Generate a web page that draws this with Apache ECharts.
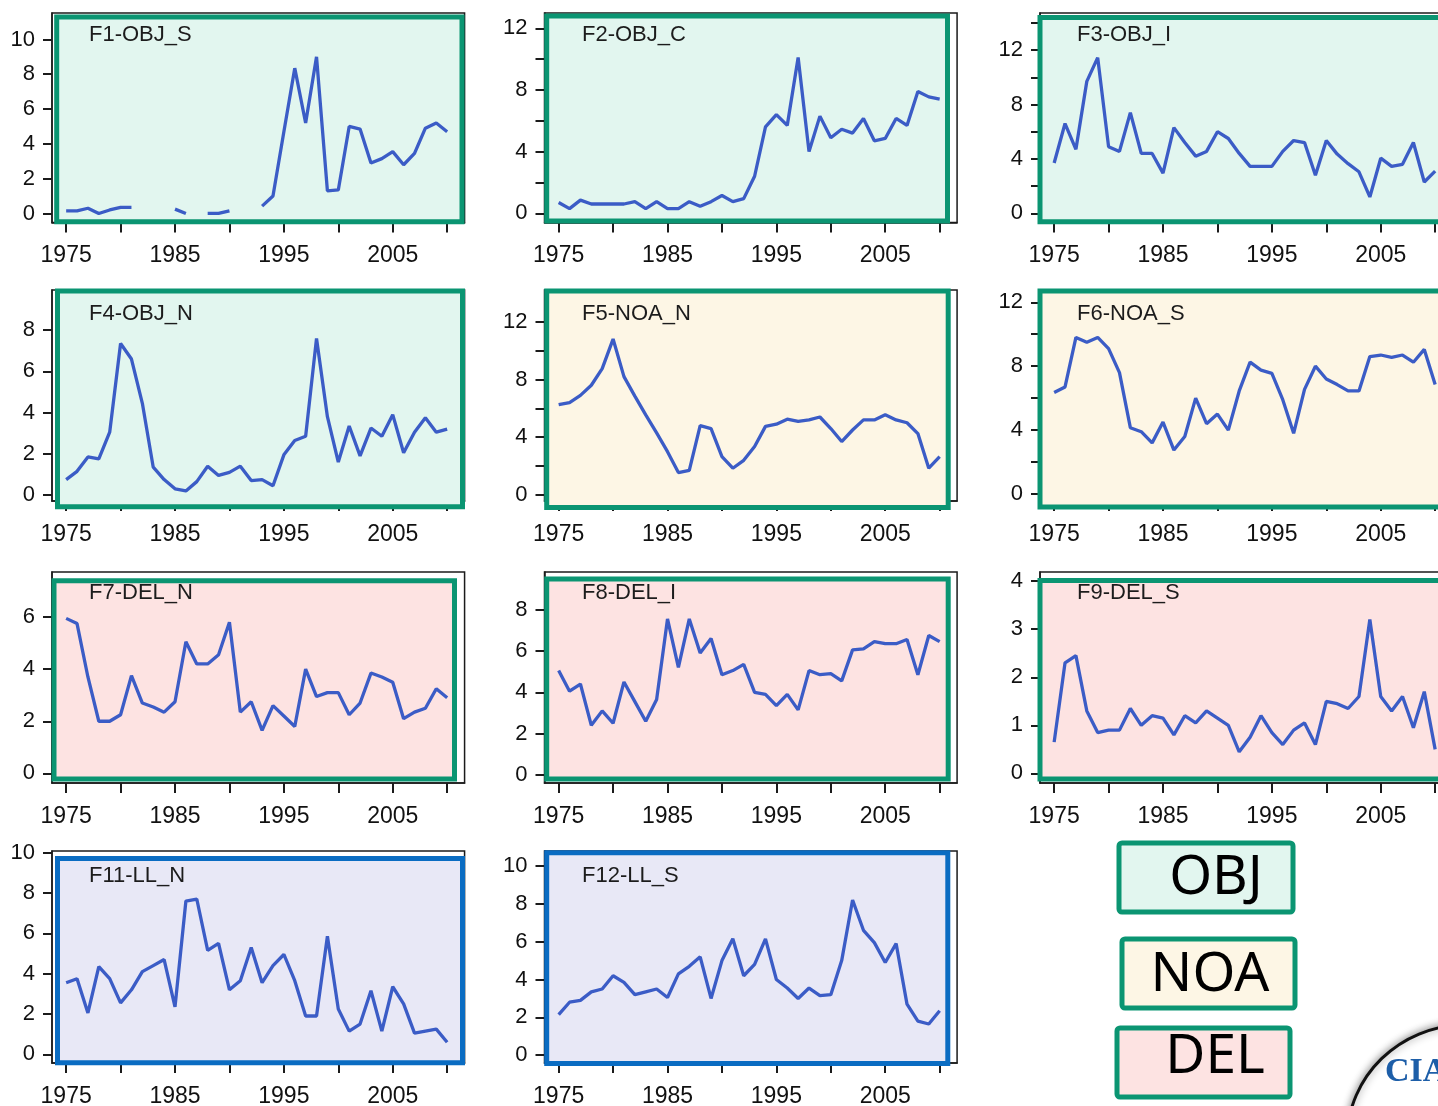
<!DOCTYPE html>
<html><head><meta charset="utf-8">
<script src="https://cdn.jsdelivr.net/npm/echarts@6/dist/echarts.min.js"></script>
<style>html,body{margin:0;padding:0;background:#fff}#c{width:1438px;height:1106px}</style>
</head><body><div id="c"></div>
<script>
// ---------- data ----------
const years = [1975,1976,1977,1978,1979,1980,1981,1982,1983,1984,1985,1986,1987,1988,1989,1990,1991,1992,1993,1994,1995,1996,1997,1998,1999,2000,2001,2002,2003,2004,2005,2006,2007,2008,2009,2010];

const F1_OBJ_S = [0.15,0.15,0.3,0.0,0.2,0.35,0.35,null,null,null, 0.25,0.0,null,0.0,0.0,0.15,null,null,0.42,1.0, 4.7,8.35,5.2,9.0,1.3,1.35,5.0,4.85,2.9,3.15, 3.55,2.8,3.45,4.9,5.2,4.7];
const F2_OBJ_C = [0.7,0.3,0.85,0.6,0.6,0.6,0.6,0.75,0.3,0.75, 0.3,0.3,0.75,0.45,0.75,1.15,0.75,0.95,2.4,5.6, 6.4,5.7,10.1,4.0,6.3,4.9,5.45,5.2,6.15,4.7, 4.85,6.15,5.7,7.9,7.55,7.4];
const F3_OBJ_I = [3.7,6.6,4.7,9.7,11.45,4.9,4.55,7.4,4.4,4.4, 2.95,6.3,5.2,4.2,4.55,6.0,5.5,4.4,3.45,3.45, 3.45,4.55,5.35,5.2,2.8,5.35,4.35,3.65,3.05,1.2, 4.05,3.45,3.6,5.2,2.3,3.1];
const F4_OBJ_N = [0.75,1.15,1.85,1.75,3.05,7.35,6.6,4.45,1.35,0.75, 0.3,0.2,0.65,1.4,0.95,1.1,1.4,0.7,0.75,0.45, 1.95,2.65,2.85,7.6,3.8,1.6,3.35,1.9,3.25,2.85, 3.9,2.05,3.05,3.75,3.05,3.2];
const F5_NOA_N = [6.25,6.4,6.9,7.6,8.75,10.8,8.2,6.85,5.55,4.3, 3.0,1.55,1.7,4.8,4.6,2.65,1.85,2.4,3.35,4.75, 4.9,5.25,5.1,5.2,5.4,4.6,3.7,4.5,5.2,5.2, 5.55,5.2,5.0,4.25,1.85,2.65];
const F6_NOA_S = [6.35,6.7,9.8,9.5,9.8,9.1,7.6,4.15,3.9,3.2, 4.5,2.75,3.6,6.0,4.4,5.0,4.0,6.45,8.25,7.75, 7.55,5.9,3.8,6.55,8.0,7.2,6.85,6.45,6.45,8.6, 8.7,8.55,8.7,8.25,9.05,6.85];
const F7_DEL_N = [5.95,5.75,3.7,2.0,2.0,2.25,3.75,2.7,2.55,2.35, 2.75,5.05,4.2,4.2,4.55,5.8,2.35,2.75,1.65,2.6, 2.2,1.8,4.0,2.95,3.1,3.1,2.25,2.7,3.85,3.7, 3.5,2.1,2.35,2.5,3.25,2.9];
const F8_DEL_I = [5.05,4.05,4.4,2.4,3.1,2.5,4.5,3.55,2.6,3.65, 7.55,5.2,7.55,5.9,6.6,4.85,5.05,5.35,4.0,3.9, 3.35,3.9,3.15,5.05,4.85,4.9,4.55,6.05,6.1,6.45, 6.35,6.35,6.55,4.85,6.75,6.45];
const F9_DEL_S = [0.65,2.3,2.45,1.3,0.85,0.9,0.9,1.35,1.0,1.2, 1.15,0.8,1.2,1.05,1.3,1.15,1.0,0.45,0.75,1.2, 0.85,0.6,0.9,1.05,0.6,1.5,1.45,1.35,1.6,3.2, 1.6,1.3,1.6,0.95,1.7,0.5];
const F11_LL_N = [3.55,3.75,2.05,4.35,3.75,2.55,3.2,4.1,4.4,4.7, 2.35,7.6,7.7,5.15,5.5,3.2,3.65,5.3,3.55,4.4, 4.95,3.65,1.9,1.9,5.85,2.25,1.15,1.5,3.15,1.15, 3.35,2.5,1.05,1.15,1.25,0.6];
const F12_LL_S = [2.15,2.8,2.9,3.35,3.5,4.2,3.85,3.2,3.35,3.5, 3.05,4.3,4.7,5.2,3.0,5.0,6.15,4.2,4.8,6.15, 4.0,3.55,3.0,3.55,3.15,3.2,5.0,8.2,6.6,5.95, 4.9,5.9,2.7,1.8,1.65,2.35];

const xTickValues = [1975,1980,1985,1990,1995,2000,2005,2010];
const xLabelValues = [1975,1985,1995,2005];
const yTicks0to10by2 = [0,2,4,6,8,10];
const yTicks0to12by2 = [0,2,4,6,8,10,12];
const yTicks0to14by2 = [0,2,4,6,8,10,12,14];
const yLabels0to12by4 = [0,4,8,12];
const yTicks0to8by2 = [0,2,4,6,8];
const yTicks0to6by2 = [0,2,4,6];
const yTicks0to4by1 = [0,1,2,3,4];
const legendLabels = ['OBJ','NOA','DEL'];

// ---------- layout / style ----------
const XMIN = 1973.7, XMAX = 2011.6, PX_PER_YEAR = 10.886;
const frameW = (XMAX - XMIN) * PX_PER_YEAR;
const colLeft = [52, 544.5, 1040];
const rowFrame = [[13, 222.5], [290, 501], [572, 783], [851, 1063]];
const titleLeft = [89, 582, 1077];
const titleTop = [24, 303, 582, 865];
const kinds = {
  OBJ: {bg: '#e2f6ef', border: '#0b9572'},
  NOA: {bg: '#fdf6e5', border: '#0b9572'},
  DEL: {bg: '#fde3e2', border: '#0b9572'},
  LL:  {bg: '#e8e8f6', border: '#0a6cc2'}
};
const FONT = '"Liberation Sans", Arial, sans-serif';
const LINE_COLOR = '#3b5cc6';

const panels = [
  {title:'F1-OBJ_S', values:F1_OBJ_S, col:0, row:0, yMin:-0.52, yMax:11.52, ticks:yTicks0to10by2, labels:yTicks0to10by2, kind:'OBJ', box:[56.7,17,462,221.7]},
  {title:'F2-OBJ_C', values:F2_OBJ_C, col:1, row:0, yMin:-0.6,  yMax:12.99, ticks:yTicks0to12by2, labels:yLabels0to12by4, kind:'OBJ', box:[546.7,16,947.5,221]},
  {title:'F3-OBJ_I', values:F3_OBJ_I, col:2, row:0, yMin:-0.68, yMax:14.73, ticks:yTicks0to14by2, labels:yLabels0to12by4, kind:'OBJ', box:[1040,17.5,1500,221.7]},
  {title:'F4-OBJ_N', values:F4_OBJ_N, col:0, row:1, yMin:-0.29, yMax:9.95,  ticks:yTicks0to8by2,  labels:yTicks0to8by2,  kind:'OBJ', box:[57.5,291,462.5,506.7]},
  {title:'F5-NOA_N', values:F5_NOA_N, col:1, row:1, yMin:-0.42, yMax:14.2,  ticks:yTicks0to12by2, labels:yLabels0to12by4, kind:'NOA', box:[546.7,291,948.2,507.5]},
  {title:'F6-NOA_S', values:F6_NOA_S, col:2, row:1, yMin:-0.44, yMax:12.77, ticks:yTicks0to12by2, labels:yLabels0to12by4, kind:'NOA', box:[1040,291,1500,507]},
  {title:'F7-DEL_N', values:F7_DEL_N, col:0, row:2, yMin:-0.37, yMax:7.73,  ticks:yTicks0to6by2,  labels:yTicks0to6by2,  kind:'DEL', box:[54,580.8,454.5,779]},
  {title:'F8-DEL_I', values:F8_DEL_I, col:1, row:2, yMin:-0.39, yMax:9.82,  ticks:yTicks0to8by2,  labels:yTicks0to8by2,  kind:'DEL', box:[546.7,579,948.2,779]},
  {title:'F9-DEL_S', values:F9_DEL_S, col:2, row:2, yMin:-0.2,  yMax:4.19,  ticks:yTicks0to4by1,  labels:yTicks0to4by1,  kind:'DEL', box:[1040,580.5,1500,779]},
  {title:'F11-LL_N', values:F11_LL_N, col:0, row:3, yMin:-0.43, yMax:10.08, ticks:yTicks0to10by2, labels:yTicks0to10by2, kind:'LL',  box:[57.5,858.5,462.5,1062.7]},
  {title:'F12-LL_S', values:F12_LL_S, col:1, row:3, yMin:-0.41, yMax:10.79, ticks:yTicks0to10by2, labels:yTicks0to10by2, kind:'LL',  box:[546.7,852.7,947.8,1063.5]}
];

const plain = v => String(v);
const grid = [], xAxis = [], yAxis = [], series = [], title = [];
panels.forEach((p, i) => {
  const [top, bottom] = rowFrame[p.row];
  const k = kinds[p.kind];
  grid.push({left: colLeft[p.col], top: top, width: frameW, height: bottom - top,
    show: true, backgroundColor: 'transparent', borderColor: '#1b1b1b', borderWidth: 1.5,
    containLabel: false, outerBoundsMode: 'none', z: 0});
  grid.push({left: p.box[0], top: p.box[1], width: p.box[2] - p.box[0], height: p.box[3] - p.box[1],
    show: true, backgroundColor: k.bg, borderColor: k.border, borderWidth: 5,
    containLabel: false, outerBoundsMode: 'none', z: 1});
  xAxis.push({type: 'value', gridIndex: 2*i, min: XMIN, max: XMAX, z: 0,
    axisLine: {show: true, onZero: false, lineStyle: {color: '#1b1b1b', width: 1.5}},
    axisTick: {show: true, inside: false, length: 10, customValues: xTickValues, lineStyle: {color: '#1b1b1b', width: 2}},
    axisLabel: {show: true, customValues: xLabelValues, formatter: plain, margin: 22, fontSize: 23, color: '#111', fontFamily: FONT},
    splitLine: {show: false}});
  xAxis.push({type: 'value', gridIndex: 2*i+1, min: 0, max: 1, show: false});
  yAxis.push({type: 'value', gridIndex: 2*i, min: p.yMin, max: p.yMax, z: 0,
    axisLine: {show: true, onZero: false, lineStyle: {color: '#1b1b1b', width: 1.5}},
    axisTick: {show: true, inside: false, length: 9, customValues: p.ticks, lineStyle: {color: '#1b1b1b', width: 2}},
    axisLabel: {show: true, customValues: p.labels, formatter: plain, margin: 17, fontSize: 22, color: '#111', fontFamily: FONT},
    splitLine: {show: false}});
  yAxis.push({type: 'value', gridIndex: 2*i+1, min: 0, max: 1, show: false});
  series.push({type: 'line', name: p.title, xAxisIndex: 2*i, yAxisIndex: 2*i, z: 3,
    data: years.map((y, j) => [y, p.values[j]]),
    showSymbol: false, connectNulls: false, clip: true,
    lineStyle: {color: LINE_COLOR, width: 3.3}, itemStyle: {color: LINE_COLOR}});
  title.push({text: p.title, left: titleLeft[p.col], top: titleTop[p.row], padding: 0, z: 4,
    textStyle: {fontSize: 22, fontWeight: 'normal', color: '#1c1c1c', fontFamily: FONT, lineHeight: 22}});
});

const legendBoxes = [
  {label: legendLabels[0], kind: 'OBJ', rect: [1119, 843, 174, 69], cx: 1216, cy: 878},
  {label: legendLabels[1], kind: 'NOA', rect: [1122, 939, 173, 69], cx: 1210, cy: 975},
  {label: legendLabels[2], kind: 'DEL', rect: [1117, 1028, 173, 69], cx: 1215, cy: 1057}
];
const graphic = [];
legendBoxes.forEach(b => {
  graphic.push({type: 'rect', shape: {x: b.rect[0], y: b.rect[1], width: b.rect[2], height: b.rect[3], r: 3},
    style: {fill: kinds[b.kind].bg, stroke: kinds[b.kind].border, lineWidth: 5}, z: 10});
  graphic.push({type: 'text', x: b.cx, y: b.cy, z: 11,
    style: {text: b.label, fill: '#000', font: '55px "Noto Sans", sans-serif', textAlign: 'center', textVerticalAlign: 'middle'}});
});
graphic.push({type: 'ellipse', shape: {cx: 1465, cy: 1140, rx: 118, ry: 115},
  style: {fill: '#ffffff', stroke: '#111', lineWidth: 3, shadowBlur: 8, shadowColor: 'rgba(0,0,0,0.45)'}, z: 10});
graphic.push({type: 'text', x: 1385, y: 1072, z: 11,
  style: {text: 'CIA', fill: '#1d5ea8', font: 'bold 34px "Liberation Serif", serif', textVerticalAlign: 'middle'}});

const chart = echarts.init(document.getElementById('c'), null, {renderer: 'canvas'});
chart.setOption({animation: false, backgroundColor: '#fff', grid, xAxis, yAxis, series, title, graphic});
</script>
</body></html>
